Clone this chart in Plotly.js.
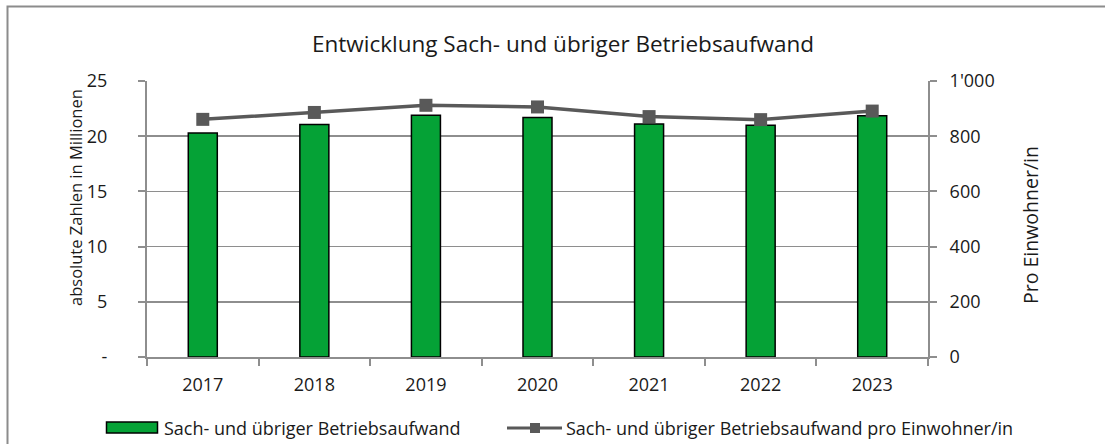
<!DOCTYPE html>
<html>
<head>
<meta charset="utf-8">
<script src="https://cdn.plot.ly/plotly-3.0.1.min.js"></script>
<style>
html,body{margin:0;padding:0;background:#fff;}
#chart{width:1105px;height:444px;}
</style>
</head>
<body>
<div id="chart"></div>
<script>
// ---- data ----
const years = ["2017", "2018", "2019", "2020", "2021", "2022", "2023"];
const aufwandMio = [20.3, 21.05, 21.9, 21.7, 21.1, 21.0, 21.85];
const aufwandProEinwohner = [861, 886, 912, 906, 871, 860, 891];
const leftTickVals = [0, 5, 10, 15, 20, 25];
const leftTickText = ["-", "5", "10", "15", "20", "25"];
const rightTickVals = [0, 200, 400, 600, 800, 1000];
const rightTickText = ["0", "200", "400", "600", "800", "1'000"];
const titleText = "Entwicklung Sach- und übriger Betriebsaufwand";
const leftTitle = "absolute Zahlen in Millionen";
const rightTitle = "Pro Einwohner/in";
const barName = "Sach- und übriger Betriebsaufwand";
const lineName = "Sach- und übriger Betriebsaufwand pro Einwohner/in";

// ---- layout helpers ----
const W = 1105, H = 444;
const L = 147, R = 928, T = 81, B = 357;
const px = x => (x - L) / (R - L);
const py = y => (B - y) / (B - T);
const FONT = "Open Sans, Segoe UI, sans-serif";
const GREEN = "#05a236";
const DARK = "#595959";
const GRID = "#8e8e8e";
const TXT = "#1a1a1a";

const traces = [
  {
    type: "bar", x: years, y: aufwandMio, name: barName,
    width: 0.26,
    marker: {color: GREEN, line: {color: "#000", width: 1.5}},
    yaxis: "y", showlegend: false, hoverinfo: "x+y"
  },
  {
    type: "scatter", mode: "lines+markers", x: years, y: aufwandProEinwohner, name: lineName,
    line: {color: DARK, width: 3.5},
    marker: {symbol: "square", size: 13, color: DARK},
    yaxis: "y2", showlegend: false
  }
];

const legY = 428;
const shapes = [
  // outer frame
  {type: "rect", xref: "paper", yref: "paper", x0: px(7.5), x1: px(1110), y0: py(6.5), y1: py(460),
   line: {color: "#8c8c8c", width: 2}, fillcolor: "rgba(0,0,0,0)", layer: "below"},
  // legend bar symbol
  {type: "rect", xref: "paper", yref: "paper", x0: px(106.5), x1: px(157.5), y0: py(433), y1: py(422),
   line: {color: "#000", width: 1.5}, fillcolor: GREEN},
  // legend line symbol
  {type: "line", xref: "paper", yref: "paper", x0: px(507), x1: px(562), y0: py(legY), y1: py(legY),
   line: {color: DARK, width: 3}},
  {type: "rect", xref: "paper", yref: "paper", x0: px(530), x1: px(540), y0: py(legY + 5), y1: py(legY - 5),
   line: {color: DARK, width: 0}, fillcolor: DARK}
];

const annotations = [
  {text: titleText, xref: "paper", yref: "paper", x: px(563), y: py(43), xanchor: "center", yanchor: "middle",
   showarrow: false, font: {family: FONT, size: 22.5, color: TXT}},
  {text: leftTitle, xref: "paper", yref: "paper", x: px(75), y: py(198), xanchor: "center", yanchor: "middle",
   textangle: -90, showarrow: false, font: {family: FONT, size: 16.5, color: TXT}},
  {text: rightTitle, xref: "paper", yref: "paper", x: px(1030), y: py(225), xanchor: "center", yanchor: "middle",
   textangle: -90, showarrow: false, font: {family: FONT, size: 19.5, color: TXT}},
  {text: barName, xref: "paper", yref: "paper", x: px(162), y: py(legY), xanchor: "left", yanchor: "middle",
   showarrow: false, font: {family: FONT, size: 18, color: TXT}},
  {text: lineName, xref: "paper", yref: "paper", x: px(564), y: py(legY), xanchor: "left", yanchor: "middle",
   showarrow: false, font: {family: FONT, size: 18, color: TXT}}
];

const layout = {
  width: W, height: H,
  margin: {l: L, r: W - R, t: T, b: H - B, pad: 0},
  paper_bgcolor: "#fff", plot_bgcolor: "#fff",
  font: {family: FONT, size: 16, color: TXT},
  showlegend: false,
  xaxis: {
    type: "category", showline: true, linecolor: GRID, linewidth: 2,
    ticks: "outside", tickson: "boundaries", ticklen: 7, tickwidth: 2, tickcolor: GRID,
    showgrid: false, tickfont: {family: FONT, size: 18, color: TXT}, ticklabelstandoff: 10
  },
  yaxis: {
    range: [0, 25], tickvals: leftTickVals, ticktext: leftTickText,
    showline: true, linecolor: GRID, linewidth: 2,
    ticks: "outside", ticklen: 7, tickwidth: 2, tickcolor: GRID,
    showgrid: true, gridcolor: GRID, gridwidth: 1.5, zeroline: false,
    tickfont: {family: FONT, size: 18, color: TXT}, ticklabelstandoff: 27
  },
  yaxis2: {
    range: [0, 1000], tickvals: rightTickVals, ticktext: rightTickText,
    overlaying: "y", side: "right",
    showline: true, linecolor: GRID, linewidth: 2,
    ticks: "outside", ticklen: 7, tickwidth: 2, tickcolor: GRID,
    showgrid: false, zeroline: false,
    tickfont: {family: FONT, size: 18, color: TXT}, ticklabelstandoff: 9
  },
  shapes: shapes,
  annotations: annotations
};

Plotly.newPlot("chart", traces, layout, {displayModeBar: false, staticPlot: true});
</script>
</body>
</html>
